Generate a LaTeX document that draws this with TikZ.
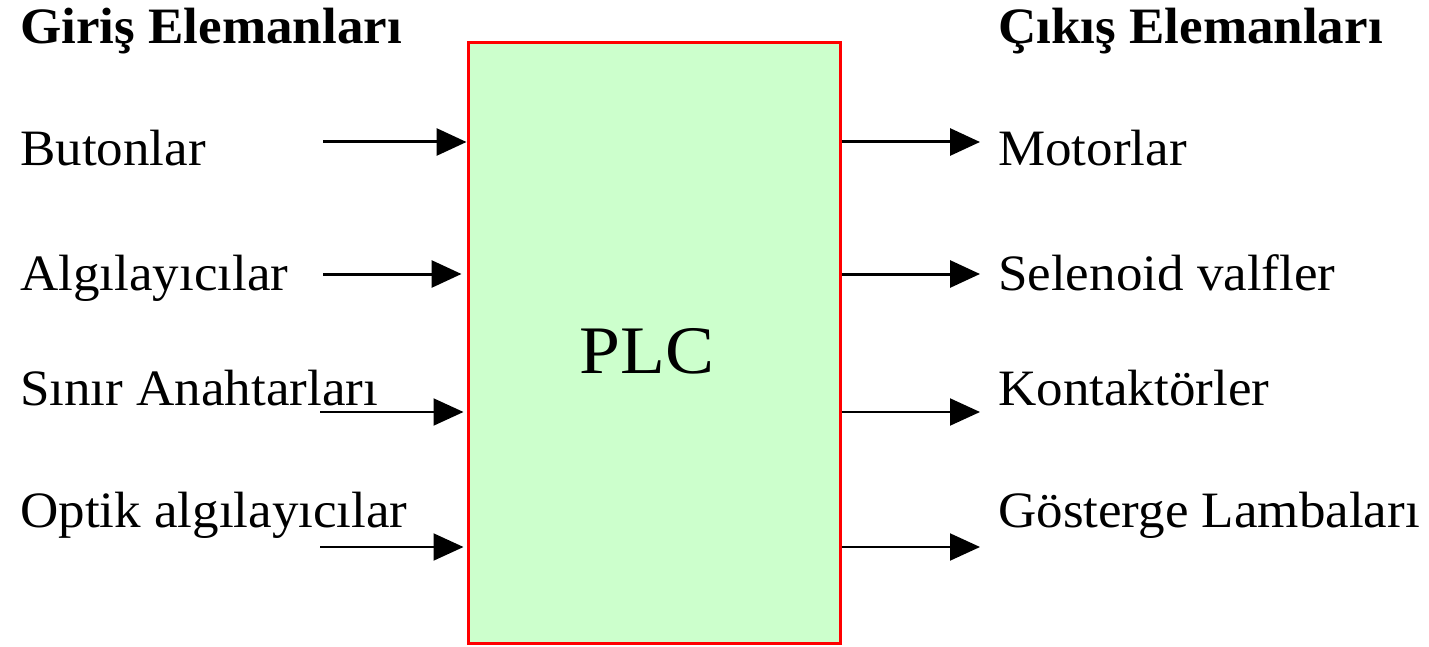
\documentclass[tikz,border=0pt]{standalone}
\usepackage{fontspec}
\usepackage{graphicx}
\setmainfont{Liberation Serif}
\usetikzlibrary{arrows.meta}
\definecolor{plcfill}{HTML}{CCFFCC}
\definecolor{plcedge}{HTML}{FF0000}
% slightly widened lettering
\newcommand{\wide}[1]{\scalebox{1.04}[1]{#1}}
\begin{document}
\begin{tikzpicture}[x=1pt,y=-1pt,
  lbl/.style={anchor=base west,inner sep=0pt,font=\fontsize{51}{60}\selectfont},
  head/.style={lbl,font=\fontsize{51}{60}\selectfont\bfseries},
  flow/.style={-{Triangle[length=30pt,width=27pt]},line width=3pt},
  thinflow/.style={flow,line width=2pt},
  plcbox/.style={draw=plcedge,fill=plcfill,line width=3pt,minimum width=372pt,minimum height=600pt,inner sep=0pt}]
\useasboundingbox (0,0) rectangle (1429,647);

% controller block
\node[plcbox] (plc) at (654,343) {};
\node[anchor=base,inner sep=0pt,font=\fontsize{68}{80}\selectfont] (plctxt) at (647,373) {\scalebox{1.08}[1]{PLC}};

% column headings
\node[head] (inhead) at (20,44) {\wide{Giriş Elemanları}};
\node[head] (outhead) at (998,44) {\wide{Çıkış Elemanları}};

% inputs
\node[lbl] (in1) at (20,166) {\wide{Butonlar}};
\node[lbl] (in2) at (20,290) {\wide{Algılayıcılar}};
\node[lbl] (in3) at (20,405) {\wide{Sınır Anahtarları}};
\node[lbl] (in4) at (20,527) {\wide{Optik algılayıcılar}};

\coordinate (a1) at (323,142);
\coordinate (a2) at (323,274);
\coordinate (a3) at (320,412);
\coordinate (a4) at (320,547);

\draw[flow] (a1) -- (plc.west |- a1);
\draw[flow] (a2) -- ([xshift=-5pt]plc.west |- a2);
\draw[thinflow] (a3) -- ([xshift=-3pt]plc.west |- a3);
\draw[thinflow] (a4) -- ([xshift=-3pt]plc.west |- a4);

% outputs
\node[lbl] (out1) at (998,166) {\wide{Motorlar}};
\node[lbl] (out2) at (998,290) {\wide{Selenoid valfler}};
\node[lbl] (out3) at (998,405) {\wide{Kontaktörler}};
\node[lbl] (out4) at (998,527) {\wide{Gösterge Lambaları}};

\coordinate (b1) at (980,142);
\coordinate (b2) at (980,274);
\coordinate (b3) at (980,412);
\coordinate (b4) at (980,547);

\draw[flow] (plc.east |- b1) -- (b1);
\draw[flow] (plc.east |- b2) -- (b2);
\draw[thinflow] (plc.east |- b3) -- (b3);
\draw[thinflow] (plc.east |- b4) -- (b4);
\end{tikzpicture}
\end{document}
